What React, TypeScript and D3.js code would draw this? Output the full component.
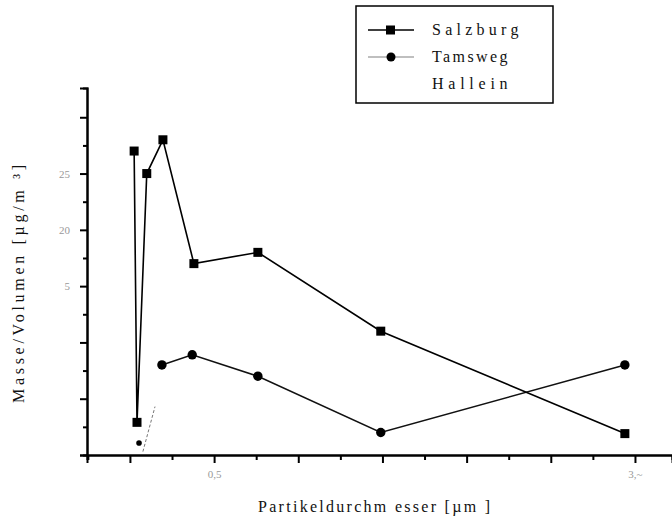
import React, { useEffect, useRef } from 'react';
import * as d3 from 'd3';

// ---- data ----
const salzburgX = [0.025, 0.042, 0.1, 0.196, 0.38, 0.76, 1.49, 2.94];
const salzburgY = [27, 2.9, 25, 28, 17, 18, 11, 1.9];
const tamswegX = [0.19, 0.37, 0.76, 1.49, 2.94];
const tamswegY = [8, 8.9, 7, 2, 8];
const halleinX = [0.077, 0.149];
const halleinY = [0.3, 4.3];
const halleinMarkX = [0.054];
const halleinMarkY = [1.07];

const yMajorTicks = [0, 5, 10, 15, 20, 25, 30];
const yTickLabels = ['', '', '', '5', '20', '25', ''];
const yMinorTicks = [2.5, 7.5, 12.5, 17.5, 22.5, 27.5];
const xMajorTicks = [0, 0.5, 1, 1.5, 2, 2.5, 3];
const xTickLabels = ['', '0,5', '', '', '', '', '3,~'];
const xMinorTicks = [-0.25, 0.25, 0.75, 1.25, 1.75, 2.25, 2.75];

const seriesNames = ['Salzburg', 'Tamsweg', 'Hallein'];
const xTitle = 'Partikeldurchm esser [µm ]';
const yTitle = 'Masse/Volumen [µg/m ³]';

const W = 672;
const H = 517;
const FONT = '"Liberation Serif", "DejaVu Serif", serif';

export default function App() {
  const ref = useRef<SVGSVGElement | null>(null);

  useEffect(() => {
    const svg = d3.select(ref.current);
    svg.selectAll('*').remove();

    const x = d3.scaleLinear().domain([-0.255, 3.22]).range([87, 672]);
    const y = d3.scaleLinear().domain([0, 32.6]).range([455, 88]);

    // axes
    const yAxisMajor = d3
      .axisLeft(y)
      .tickValues(yMajorTicks)
      .tickSize(7)
      .tickPadding(10)
      .tickFormat((d, i) => yTickLabels[i]);
    const yAxisMinor = d3.axisLeft(y).tickValues(yMinorTicks).tickSize(4).tickFormat(() => '');
    const xAxisMajor = d3
      .axisBottom(x)
      .tickValues(xMajorTicks)
      .tickSize(8)
      .tickPadding(7)
      .tickFormat((d, i) => xTickLabels[i]);
    const xAxisMinor = d3.axisBottom(x).tickValues(xMinorTicks).tickSize(5).tickFormat(() => '');

    const gy = svg.append('g').attr('transform', `translate(${x.range()[0]},0)`);
    gy.call(yAxisMajor);
    gy.append('g').call(yAxisMinor);
    const gx = svg.append('g').attr('transform', `translate(0,${y.range()[0]})`);
    gx.call(xAxisMajor);
    gx.append('g').call(xAxisMinor);

    [gx, gy].forEach((g) => {
      g.selectAll('.domain').attr('stroke', '#000').attr('stroke-width', 2);
      g.selectAll('line').attr('stroke', '#000').attr('stroke-width', 2);
      g.selectAll('text')
        .attr('fill', '#999')
        .style('font-family', FONT)
        .style('font-size', '11px');
    });

    // lines
    const line = d3
      .line<[number, number]>()
      .x((d) => x(d[0]))
      .y((d) => y(d[1]));

    const sData = salzburgX.map((v, i) => [v, salzburgY[i]] as [number, number]);
    const tData = tamswegX.map((v, i) => [v, tamswegY[i]] as [number, number]);
    const hData = halleinX.map((v, i) => [v, halleinY[i]] as [number, number]);

    svg.append('path').attr('d', line(tData)).attr('fill', 'none').attr('stroke', '#111').attr('stroke-width', 1.5);
    svg.append('path').attr('d', line(sData)).attr('fill', 'none').attr('stroke', '#000').attr('stroke-width', 1.6);
    svg
      .append('path')
      .attr('d', line(hData))
      .attr('fill', 'none')
      .attr('stroke', '#777')
      .attr('stroke-width', 1)
      .attr('stroke-dasharray', '3,2');

    const sq = 9;
    svg
      .selectAll('rect.s')
      .data(sData)
      .enter()
      .append('rect')
      .attr('x', (d) => x(d[0]) - sq / 2)
      .attr('y', (d) => y(d[1]) - sq / 2)
      .attr('width', sq)
      .attr('height', sq)
      .attr('fill', '#000');
    svg
      .selectAll('circle.t')
      .data(tData)
      .enter()
      .append('circle')
      .attr('cx', (d) => x(d[0]))
      .attr('cy', (d) => y(d[1]))
      .attr('r', 4.7)
      .attr('fill', '#000');
    svg
      .selectAll('circle.h')
      .data(halleinMarkX.map((v, i) => [v, halleinMarkY[i]]))
      .enter()
      .append('circle')
      .attr('cx', (d) => x(d[0]))
      .attr('cy', (d) => y(d[1]))
      .attr('r', 2.8)
      .attr('fill', '#000');

    // titles
    svg
      .append('text')
      .attr('x', 374)
      .attr('y', 512)
      .attr('text-anchor', 'middle')
      .attr('textLength', 232)
      .attr('lengthAdjust', 'spacing')
      .style('font-family', FONT)
      .style('font-size', '16px')
      .attr('fill', '#111')
      .text(xTitle);
    svg
      .append('text')
      .attr('transform', `translate(24,284) rotate(-90)`)
      .attr('text-anchor', 'middle')
      .attr('textLength', 238)
      .attr('lengthAdjust', 'spacing')
      .style('font-family', FONT)
      .style('font-size', '16px')
      .attr('fill', '#111')
      .text(yTitle);

    // legend
    const lg = svg.append('g');
    lg.append('rect')
      .attr('x', 356)
      .attr('y', 6)
      .attr('width', 197)
      .attr('height', 97)
      .attr('fill', '#fff')
      .attr('stroke', '#000')
      .attr('stroke-width', 1.5);
    const rows = [30, 57, 84];
    const lineColors = ['#000', '#aaa', 'none'];
    seriesNames.forEach((name, i) => {
      const ry = rows[i];
      if (lineColors[i] !== 'none') {
        lg.append('line')
          .attr('x1', 368)
          .attr('x2', 414)
          .attr('y1', ry)
          .attr('y2', ry)
          .attr('stroke', lineColors[i])
          .attr('stroke-width', 1.3);
      }
      if (i === 0) {
        lg.append('rect').attr('x', 386).attr('y', ry - 4.5).attr('width', 9).attr('height', 9).attr('fill', '#000');
      } else if (i === 1) {
        lg.append('circle').attr('cx', 391).attr('cy', ry).attr('r', 4.5).attr('fill', '#000');
      }
      lg.append('text')
        .attr('x', 432)
        .attr('y', ry + 5)
        .attr('textLength', name.length * 10.8)
        .attr('lengthAdjust', 'spacing')
        .style('font-family', FONT)
        .style('font-size', '16px')
        .attr('fill', '#111')
        .text(name);
    });
  }, []);

  return (
    <svg
      ref={ref}
      width={W}
      height={H}
      style={{ position: 'absolute', left: 0, top: 0, background: '#fff' }}
    />
  );
}
